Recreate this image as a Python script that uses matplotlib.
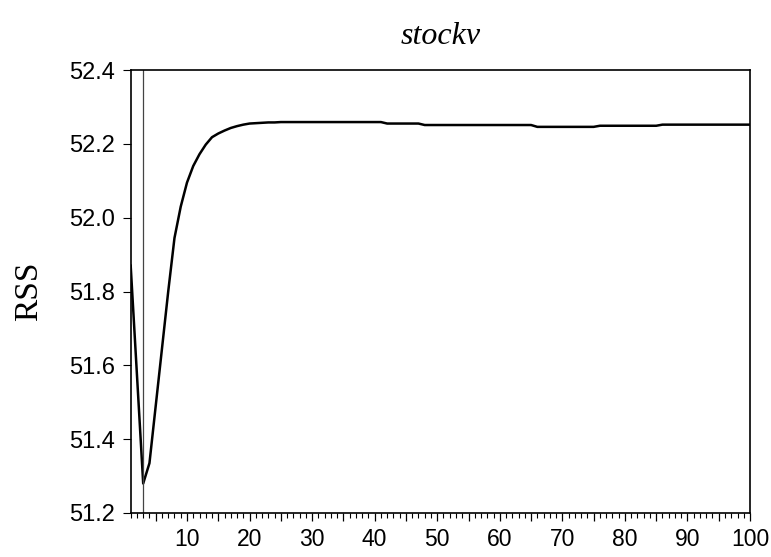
import numpy as np
import matplotlib
matplotlib.use("Agg")
import matplotlib.pyplot as plt
from matplotlib.ticker import MultipleLocator, FuncFormatter

# RSS, one value per break point 1..100
points = list(range(1, 101))
rss = [
    51.870, 51.575, 51.280, 51.335, 51.490, 51.645, 51.800, 51.945, 52.030, 52.095,
    52.140, 52.172, 52.198, 52.218, 52.228, 52.236, 52.243, 52.248, 52.252, 52.255,
    52.256, 52.257, 52.258, 52.258, 52.259, 52.259, 52.259, 52.259, 52.259, 52.259,
    52.259, 52.259, 52.259, 52.259, 52.259, 52.259, 52.259, 52.259, 52.259, 52.259,
    52.259, 52.255, 52.255, 52.255, 52.255, 52.255, 52.255, 52.251, 52.251, 52.251,
    52.251, 52.251, 52.251, 52.251, 52.251, 52.251, 52.251, 52.251, 52.251, 52.251,
    52.251, 52.251, 52.251, 52.251, 52.251, 52.246, 52.246, 52.246, 52.246, 52.246,
    52.246, 52.246, 52.246, 52.246, 52.246, 52.249, 52.249, 52.249, 52.249, 52.249,
    52.249, 52.249, 52.249, 52.249, 52.249, 52.252, 52.252, 52.252, 52.252, 52.252,
    52.252, 52.252, 52.252, 52.252, 52.252, 52.252, 52.252, 52.252, 52.252, 52.252,
]
best_break = 3
yticks = [51.2, 51.4, 51.6, 51.8, 52.0, 52.2, 52.4]

fig = plt.figure(figsize=(7.71, 5.57), dpi=100)
ax = fig.add_axes([0.1695, 0.079, 0.8033, 0.7953])

ax.plot(points, rss, color="black", lw=1.8)
ax.axvline(best_break, color="#444444", lw=0.9)

ax.set_xlim(1, 100)
ax.set_ylim(51.2, 52.4)

ax.xaxis.set_major_locator(MultipleLocator(5))
ax.xaxis.set_minor_locator(MultipleLocator(1))
ax.xaxis.set_major_formatter(FuncFormatter(lambda v, p: "%d" % v if v % 10 == 0 else ""))
ax.set_yticks(yticks)
ax.set_yticklabels(["%.1f" % v for v in yticks])

for lab in ax.get_xticklabels():
    lab.set_fontfamily("Liberation Sans")
    lab.set_fontsize(16.5)
for lab in ax.get_yticklabels():
    lab.set_fontfamily("Liberation Sans")
    lab.set_fontsize(17)

ax.tick_params(axis="x", which="major", direction="out", length=6, width=0.9, pad=4.5)
ax.tick_params(axis="x", which="minor", direction="out", length=3.5, width=0.8)
ax.tick_params(axis="y", which="major", direction="out", length=6, width=0.8, pad=5.5)
ax.tick_params(top=False, right=False)

for s in ax.spines.values():
    s.set_linewidth(1.2)

ax.set_ylabel("RSS", family="Liberation Serif", fontsize=24, labelpad=18)
ax.set_title("stockv", family="Liberation Serif", style="italic", fontsize=23, pad=19)

fig.savefig("out.png", dpi=100)
